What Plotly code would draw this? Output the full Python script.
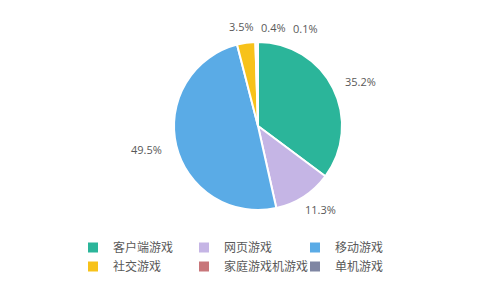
import math
import plotly.graph_objects as go

categories = ["客户端游戏", "网页游戏", "移动游戏", "社交游戏", "家庭游戏机游戏", "单机游戏"]
values = [35.2, 11.3, 49.5, 3.5, 0.4, 0.1]
labels_txt = ["35.2%", "11.3%", "49.5%", "3.5%", "0.4%", "0.1%"]
colors = ["#2bb59a", "#c5b5e5", "#5aabe6", "#f7c21a", "#c8767a", "#7f86a3"]

W, H = 500, 289
ML, MR = 50, 50
PW = W - ML - MR


def px_x(px):
    return (px - ML) / PW


def px_y(py):
    return 1 - py / H


dom_x = [px_x(174), px_x(342)]
dom_y = [px_y(210), px_y(42)]

fig = go.Figure(go.Pie(
    labels=categories, values=values,
    textinfo="none",
    sort=False, direction="clockwise", rotation=0,
    marker=dict(colors=colors, line=dict(color="white", width=2)),
    domain=dict(x=dom_x, y=dom_y),
    showlegend=True, hoverinfo="label+percent",
))

# label positions derived from slice mid-angles (pixel space)
cx = (174 + 342) / 2
cy = (42 + 210) / 2
r = (342 - 174) / 2
Ry = r + 16
Rx = Ry + 15
total = sum(values)
cum = 0
pos = []
for v in values:
    mid = (cum + v / 2) / total * 2 * math.pi
    cum += v
    pos.append([cx + Rx * math.sin(mid), cy - Ry * math.cos(mid)])
# simple overlap avoidance: push crowded labels to the right
min_dx = 32
for i in range(1, len(pos)):
    px, py = pos[i - 1]
    x, y = pos[i]
    if abs(y - py) < 14 and x - px < min_dx:
        pos[i] = [px + min_dx, py + 1]

for (x, y), t in zip(pos, labels_txt):
    fig.add_annotation(x=px_x(x), y=px_y(y), xref="paper", yref="paper",
                       text=t, showarrow=False, xanchor="center", yanchor="middle",
                       font=dict(size=11, color="#595959", family="Open Sans"))

fig.update_layout(
    width=W, height=H, margin=dict(l=ML, r=MR, t=0, b=0, autoexpand=False),
    paper_bgcolor="white", plot_bgcolor="white",
    legend=dict(orientation="h", x=px_x(73), xanchor="left", y=px_y(233), yanchor="top",
                entrywidth=66, font=dict(size=12, color="#595959", family="Noto Sans CJK SC"),
                itemwidth=30, tracegroupgap=0),
)
fig.write_html("out.html")
